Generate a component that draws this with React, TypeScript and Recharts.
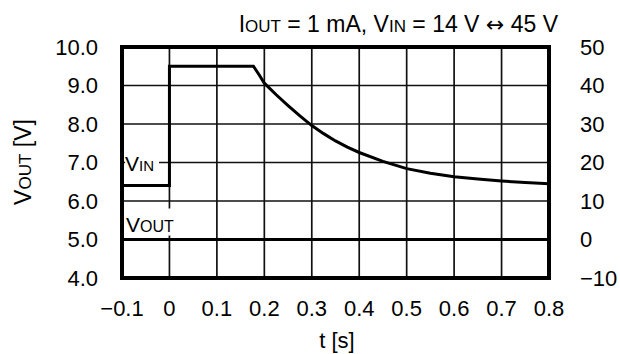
import { ComposedChart, Line, XAxis, YAxis, CartesianGrid, ReferenceArea, ReferenceDot } from 'recharts'

const FONT = '"Liberation Sans", Arial, sans-serif'

// axis ticks
const timeTicks = [-0.1, 0, 0.1, 0.2, 0.3, 0.4, 0.5, 0.6, 0.7, 0.8]
const voutTicks = [4, 5, 6, 7, 8, 9, 10]
const vinTicks = [-10, 0, 10, 20, 30, 40, 50]

// VIN step 14 V -> 45 V at t = 0, then decays back (right axis)
const vinTime = [-0.1, 0, 0, 0.177, 0.19, 0.2, 0.225, 0.25, 0.275, 0.3, 0.325, 0.35, 0.375, 0.4, 0.45, 0.5, 0.55, 0.6, 0.65, 0.7, 0.75, 0.8]
const vinVolts = [14, 14, 45, 45, 42.6, 40.6, 37.6, 34.8, 32.1, 29.6, 27.5, 25.6, 24, 22.6, 20.3, 18.4, 17.2, 16.3, 15.7, 15.2, 14.8, 14.5]

// VOUT stays at 5 V (left axis)
const voutTime = [-0.1, 0.8]
const voutVolts = [5.0, 5.0]

const vinData = vinTime.map((t, i) => ({ t, vin: vinVolts[i] }))
const voutData = voutTime.map((t, i) => ({ t, vout: voutVolts[i] }))

const minus = (v: number) => (v < 0 ? '\u2212' + Math.abs(v) : String(v))
const tickStyle = { fontSize: 22, fill: '#000', fontFamily: FONT }

export default function App() {
  return (
    <div style={{ position: 'absolute', left: 0, top: 0, width: 620, height: 354, background: '#fff', fontFamily: FONT }}>
      <ComposedChart width={620} height={354} margin={{ top: 47, right: 11, bottom: 46, left: 62 }}>
        <CartesianGrid stroke="#111" strokeWidth={1.7} />
        <XAxis
          dataKey="t" type="number" domain={[-0.1, 0.8]} ticks={timeTicks} allowDataOverflow
          tickFormatter={minus} tick={tickStyle} axisLine={false} tickLine={false} tickMargin={16} height={30}
        />
        <YAxis
          type="number" domain={[4, 10]} ticks={voutTicks} width={60}
          tickFormatter={(v: number) => v.toFixed(1)} tick={tickStyle} axisLine={false} tickLine={false} tickMargin={18}
        />
        <YAxis
          yAxisId="right" orientation="right" type="number" domain={[-10, 50]} ticks={vinTicks} width={60}
          tickFormatter={minus} tick={{ ...tickStyle, textAnchor: 'start' }} axisLine={false} tickLine={false} tickMargin={25}
        />
        <Line data={voutData} dataKey="vout" type="linear" stroke="#000" strokeWidth={3} dot={false} isAnimationActive={false} />
        <Line data={vinData} yAxisId="right" dataKey="vin" type="linear" stroke="#000" strokeWidth={3} dot={false} isAnimationActive={false} />
        <ReferenceArea x1={-0.1} x2={0.8} y1={4} y2={10} fill="none" stroke="#000" strokeWidth={4} ifOverflow="visible" />
        <ReferenceDot
          x={-0.1} y={7} r={0} ifOverflow="visible"
          shape={(p: any) => (
            <g>
              <rect x={p.cx + 3} y={p.cy - 8} width={34} height={16} fill="#fff" />
              <text x={p.cx + 3} y={p.cy + 8} fontSize={21} fontFamily={FONT} fill="#000">
                V<tspan fontSize={15}>IN</tspan>
              </text>
            </g>
          )}
        />
        <ReferenceDot
          x={-0.1} y={5} r={0} ifOverflow="visible"
          shape={(p: any) => (
            <g>
              <rect x={p.cx + 2} y={p.cy - 31} width={54} height={27} fill="#fff" />
              <text x={p.cx + 4} y={p.cy - 8} fontSize={21} fontFamily={FONT} fill="#000">
                V<tspan fontSize={16}>OUT</tspan>
              </text>
            </g>
          )}
        />
      </ComposedChart>
      <svg width={620} height={354} style={{ position: 'absolute', left: 0, top: 0, pointerEvents: 'none' }}>
        <text x={558} y={32} textAnchor="end" fontSize={23} fontFamily={FONT} fill="#000">
          I<tspan fontSize={17}>OUT</tspan> = 1 mA, V<tspan fontSize={17}>IN</tspan> = 14 V <tspan fontFamily="DejaVu Sans" fontSize={22}>↔</tspan> 45 V
        </text>
        <text x={337} y={348} textAnchor="middle" fontSize={22} fontFamily={FONT} fill="#000">t [s]</text>
        <text transform="translate(31,162) rotate(-90)" textAnchor="middle" fontSize={23} fontFamily={FONT} fill="#000">
          V<tspan fontSize={17}>OUT</tspan> [V]
        </text>
      </svg>
    </div>
  )
}
